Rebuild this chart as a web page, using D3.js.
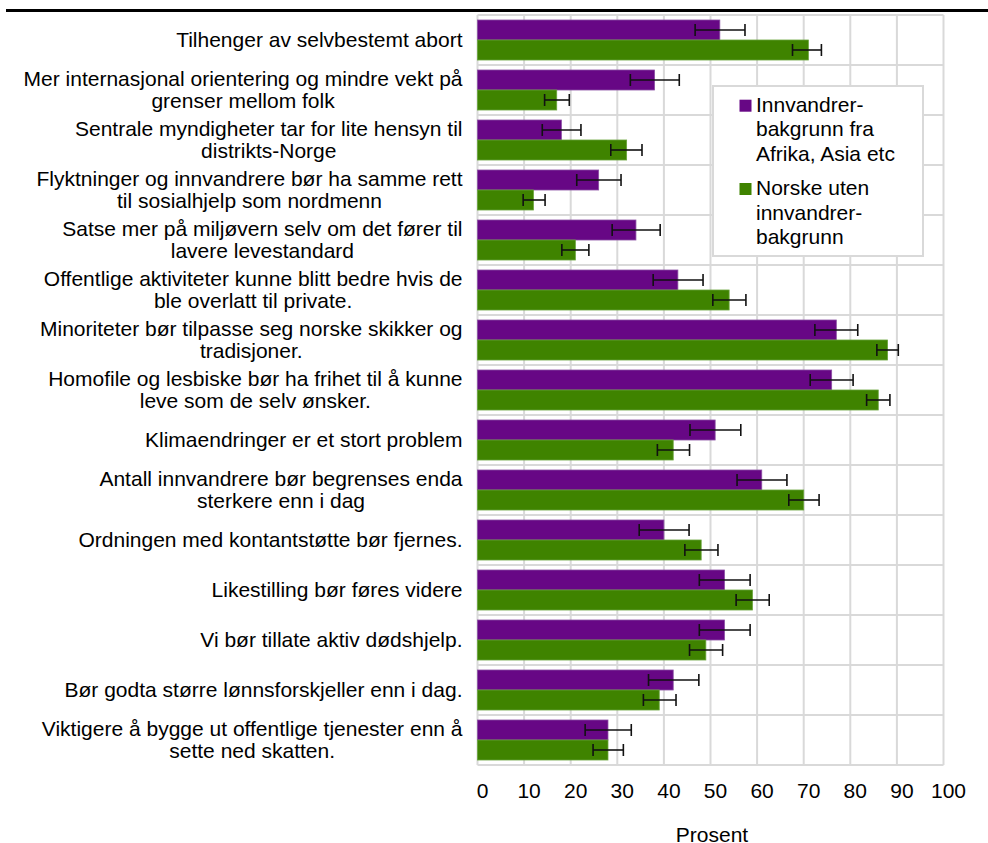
<!DOCTYPE html>
<html><head><meta charset="utf-8">
<script src="https://cdn.jsdelivr.net/npm/d3@7"></script>
<style>html,body{margin:0;padding:0;background:#fff;}svg{display:block;}</style>
</head><body>
<svg id="chart" width="988" height="843"></svg>
<script>
const categories = [
  "Tilhenger av selvbestemt abort",
  "Mer internasjonal orientering og mindre vekt på\ngrenser mellom folk",
  "Sentrale myndigheter tar for lite hensyn til\ndistrikts-Norge",
  "Flyktninger og innvandrere bør ha samme rett\ntil sosialhjelp som nordmenn",
  "Satse mer på miljøvern selv om det fører til\nlavere levestandard",
  "Offentlige aktiviteter kunne blitt bedre hvis de\nble overlatt til private.",
  "Minoriteter bør tilpasse seg norske skikker og\ntradisjoner.",
  "Homofile og lesbiske bør ha frihet til å kunne\nleve som de selv ønsker.",
  "Klimaendringer er et stort problem",
  "Antall innvandrere bør begrenses enda\nsterkere enn i dag",
  "Ordningen med kontantstøtte bør fjernes.",
  "Likestilling bør føres videre",
  "Vi bør tillate aktiv dødshjelp.",
  "Bør godta større lønnsforskjeller enn i dag.",
  "Viktigere å bygge ut offentlige tjenester enn å\nsette ned skatten."
];
const seriesNames = ["Innvandrer-\nbakgrunn fra\nAfrika, Asia etc", "Norske uten\ninnvandrer-\nbakgrunn"];
const immigrant   = [52, 38, 18, 26, 34, 43, 77, 76, 51, 61, 40, 53, 53, 42, 28];
const immigrantLo = [46.7, 32.8, 13.9, 21.3, 28.9, 37.7, 72.4, 71.4, 45.6, 55.7, 34.7, 47.6, 47.6, 36.7, 23.1];
const immigrantHi = [57.4, 43.3, 22.2, 30.8, 39.2, 48.4, 81.6, 80.6, 56.5, 66.4, 45.4, 58.5, 58.5, 47.5, 33.0];
const norwegian   = [71, 17, 32, 12, 21, 54, 88, 86, 42, 70, 48, 59, 49, 39, 28];
const norwegianLo = [67.6, 14.4, 28.6, 9.8, 18.1, 50.5, 85.7, 83.5, 38.6, 66.8, 44.5, 55.5, 45.5, 35.6, 24.8];
const norwegianHi = [73.8, 19.7, 35.3, 14.5, 23.9, 57.6, 90.3, 88.5, 45.5, 73.3, 51.6, 62.6, 52.6, 42.6, 31.3];
const xTicks = [0, 10, 20, 30, 40, 50, 60, 70, 80, 90, 100];
const xTitle = "Prosent";
const colors = ["#670785", "#3f8300"];

const FONT = "'Liberation Sans', Arial, Helvetica, sans-serif";
const FS = 21;
const svg = d3.select("#chart");

const x = d3.scaleLinear().domain([0, 100]).range([477.5, 943.5]);
const y = d3.scaleBand().domain(d3.range(categories.length)).range([15, 765]).padding(0);
const ySub = d3.scaleBand().domain([0, 1]).range([5, 45]).padding(0);

const series = [
  {vals: immigrant, lo: immigrantLo, hi: immigrantHi},
  {vals: norwegian, lo: norwegianLo, hi: norwegianHi}
];

// top rule
svg.append("line").attr("x1", 6).attr("x2", 988).attr("y1", 10.5).attr("y2", 10.5)
  .attr("stroke", "#000").attr("stroke-width", 3);

// gridlines
const grid = svg.append("g");
grid.selectAll("line.v").data(xTicks).join("line")
  .attr("x1", d => x(d)).attr("x2", d => x(d))
  .attr("y1", y.range()[0]).attr("y2", y.range()[1])
  .attr("stroke", "#d9d9d9").attr("stroke-width", 2);
const hb = d3.range(categories.length + 1).map(i => y.range()[0] + i * y.step());
grid.selectAll("line.h").data(hb).join("line")
  .attr("x1", x(0)).attr("x2", x(100))
  .attr("y1", d => d).attr("y2", d => d)
  .attr("stroke", "#d9d9d9").attr("stroke-width", 2);

// bars
series.forEach((s, si) => {
  const g = svg.append("g");
  g.selectAll("rect").data(s.vals).join("rect")
    .attr("x", x(0))
    .attr("y", (d, i) => y(i) + ySub(si))
    .attr("width", d => x(d) - x(0))
    .attr("height", ySub.bandwidth())
    .attr("fill", colors[si])
    .attr("stroke", si === 0 ? "#8b4fa3" : "#68a33a").attr("stroke-width", 0.8);
});

// error bars
series.forEach((s, si) => {
  const g = svg.append("g").attr("stroke", "#111").attr("stroke-width", 1.6);
  s.vals.forEach((v, i) => {
    const cy = y(i) + ySub(si) + ySub.bandwidth() / 2;
    g.append("line").attr("x1", x(s.lo[i])).attr("x2", x(s.hi[i])).attr("y1", cy).attr("y2", cy);
    g.append("line").attr("x1", x(s.lo[i])).attr("x2", x(s.lo[i])).attr("y1", cy - 6).attr("y2", cy + 6);
    g.append("line").attr("x1", x(s.hi[i])).attr("x2", x(s.hi[i])).attr("y1", cy - 6).attr("y2", cy + 6);
  });
});

// category labels (centered block, right edge aligned)
const RIGHT = 462.5, LH = 22;
categories.forEach((c, i) => {
  const lines = c.split("\n");
  const t = svg.append("text").attr("font-family", FONT).attr("font-size", FS)
    .attr("fill", "#000").attr("text-anchor", "middle");
  const cy = y(i) + y.bandwidth() / 2;
  lines.forEach((ln, li) => {
    t.append("tspan").attr("x", 0).attr("y", cy + (li - (lines.length - 1) / 2) * LH + 7).text(ln);
  });
  let w = 0;
  t.selectAll("tspan").each(function() { w = Math.max(w, this.getComputedTextLength()); });
  t.selectAll("tspan").attr("x", RIGHT - w / 2);
});

// x tick labels
svg.append("g").selectAll("text").data(xTicks).join("text")
  .attr("x", d => x(d) + 5).attr("y", 797.5)
  .attr("text-anchor", "middle").attr("font-family", FONT).attr("font-size", FS)
  .attr("fill", "#000").text(d => d);

svg.append("text").attr("x", 712).attr("y", 842).attr("text-anchor", "middle")
  .attr("font-family", FONT).attr("font-size", FS).attr("fill", "#000").text(xTitle);

// legend
const lg = svg.append("g");
lg.append("rect").attr("x", 713).attr("y", 86).attr("width", 210).attr("height", 170)
  .attr("fill", "#fff").attr("stroke", "#d9d9d9").attr("stroke-width", 2);
const legTop = [111.7, 195];
seriesNames.forEach((nm, si) => {
  lg.append("rect").attr("x", 739.5).attr("y", legTop[si] - 12).attr("width", 12).attr("height", 12)
    .attr("fill", colors[si]);
  const t = lg.append("text").attr("font-family", FONT).attr("font-size", FS).attr("fill", "#000");
  nm.split("\n").forEach((ln, li) => {
    t.append("tspan").attr("x", 756).attr("y", legTop[si] + li * 24.5).text(ln);
  });
});
</script>
</body></html>
